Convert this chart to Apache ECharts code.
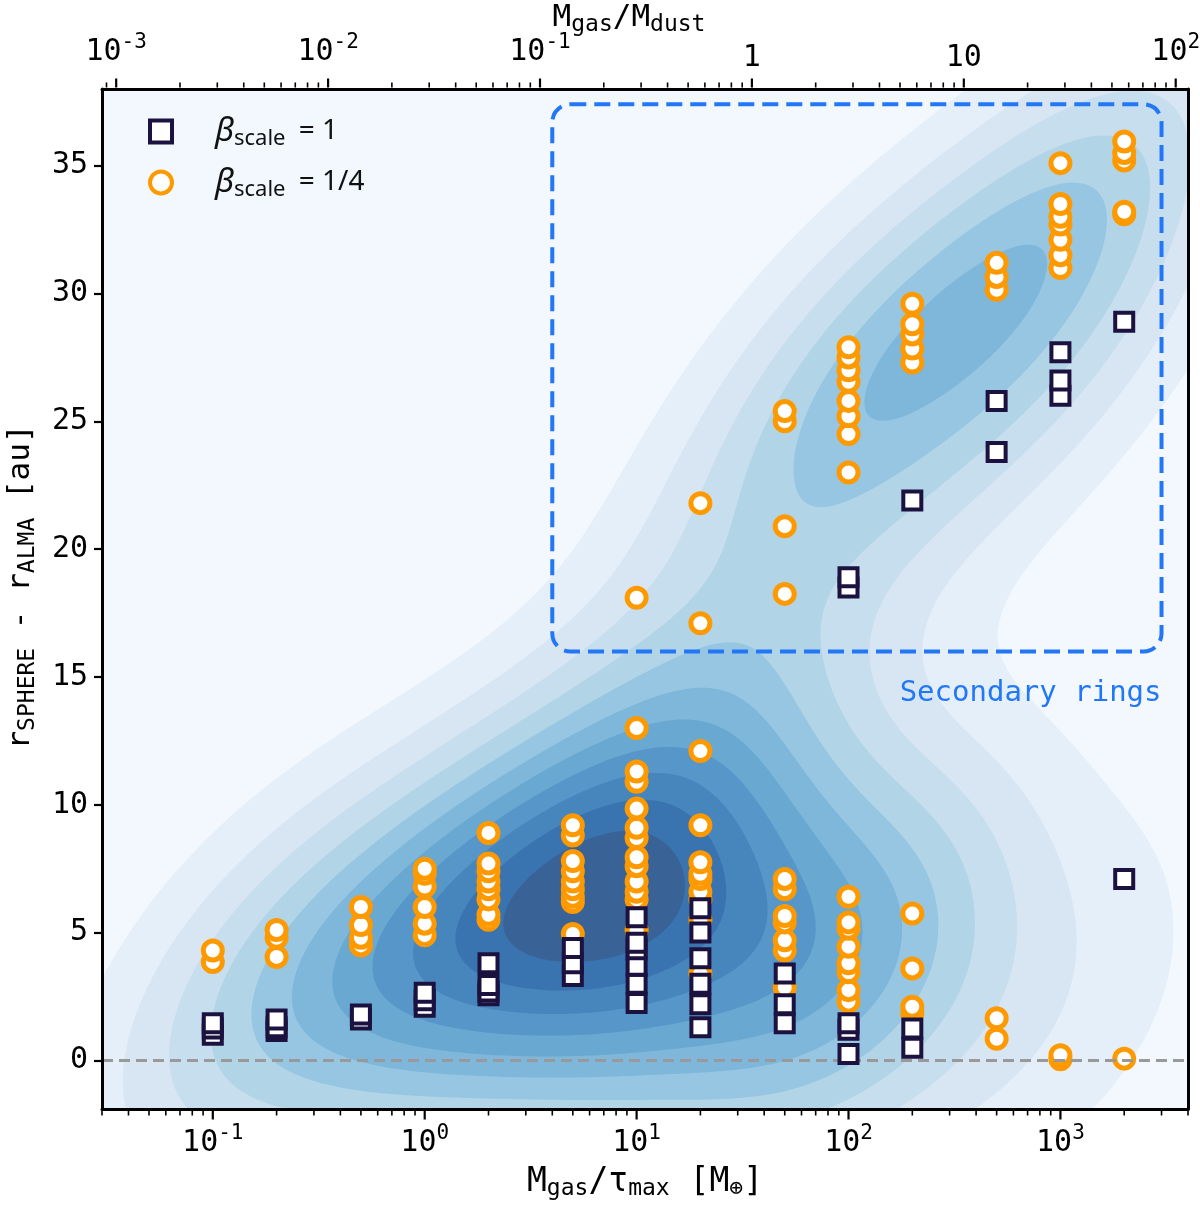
<!DOCTYPE html>
<html>
<head>
<meta charset="utf-8">
<script src="https://cdn.jsdelivr.net/npm/echarts@6/dist/echarts.min.js"></script>
<style>html,body{margin:0;padding:0;background:#fff}#chart{width:1200px;height:1217px}</style>
</head>
<body>
<div id="chart"></div>
<script>
// ---------------- DATA ----------------
const xGroups = [0.1, 0.2, 0.5, 1, 2, 5, 10, 20, 50, 100, 200, 500, 1000, 2000];
// beta_scale = 1 (squares)
const beta1Inner = [
  [1.0, 1.25, 1.45], [1.15, 1.3, 1.6], [1.6, 1.8], [2.1, 2.35, 2.65],
  [2.55, 2.7, 2.95, 3.8], [3.3, 3.8, 4.4], [2.25, 3.0, 3.7, 4.35, 4.6, 5.6],
  [1.3, 2.2, 3.0, 4.0, 5.0, 5.95], [1.45, 2.2, 3.4], [0.25, 1.2, 1.45],
  [0.5, 1.25], [], [], [7.1]
];
const beta1Outer = [
  [], [], [], [], [], [], [], [], [], [18.5, 18.9], [21.9], [23.8, 25.8],
  [26.0, 26.6, 27.7], [28.9]
];
// beta_scale = 1/4 (circles)
const beta4Inner = [
  [3.85, 4.3], [4.05, 4.8, 5.1], [4.5, 4.8, 5.3, 6.0], [4.9, 5.35, 6.0, 6.8, 7.3, 7.5],
  [5.5, 5.7, 6.3, 6.7, 7.0, 7.4, 7.7, 8.9], [4.95, 6.2, 6.4, 6.7, 7.0, 7.4, 7.8, 8.8, 9.2],
  [5.1, 6.3, 6.6, 7.0, 7.6, 7.95, 8.7, 9.1, 9.85, 10.9, 11.3, 13.0],
  [3.4, 5.5, 6.3, 6.6, 7.1, 7.3, 7.75, 9.2, 12.1], [2.85, 4.3, 4.7, 5.4, 5.65, 6.7, 7.1],
  [2.3, 2.75, 3.45, 3.8, 4.45, 5.15, 5.4, 6.4], [1.85, 2.1, 3.6, 5.75], [0.85, 1.65],
  [0.05, 0.2], [0.07]
];
const beta4Outer = [
  [], [], [], [], [], [], [18.1], [17.1, 21.8], [18.25, 20.9, 25.0, 25.4],
  [23.0, 24.5, 25.2, 25.8, 26.55, 27.0, 27.5, 27.9], [27.3, 27.85, 28.4, 28.8, 29.6],
  [30.15, 30.65, 31.2], [31.0, 31.5, 32.1, 32.7, 33.0, 33.5, 35.1],
  [33.1, 33.2, 35.2, 35.5, 35.95]
];
// "Secondary rings" box corners (data space)
const boxX = [4, 3000];
const boxY = [16.0, 37.4];
const boxLabel = 'Secondary rings';
// axes
const yTicks = [0, 5, 10, 15, 20, 25, 30, 35];
const gasToDustFactor = 35;
const bottomDecades = [0.01, 0.1, 1, 10, 100, 1000];
const topDecades = [0.0001, 0.001, 0.01, 0.1, 1, 10, 100];
const minorMultipliers = [2, 3, 4, 5, 6, 7, 8, 9];
const seriesNames = ['βscale = 1', 'βscale = 1/4'];

// ---------------- SETUP ----------------
const XMIN = 0.03, XMAX = 4000, YMIN = -1.9, YMAX = 38;
const TXMIN = XMIN / gasToDustFactor, TXMAX = XMAX / gasToDustFactor;
const MONO = "'DejaVu Sans Mono', monospace";
const SANS = "'Noto Sans', sans-serif";
const SQ_COLOR = '#1c1240';
const CI_COLOR = '#ff9900';
const BOX_COLOR = '#2277f6';

function pairs(groups) {
  const out = [];
  xGroups.forEach((x, i) => groups.forEach(g => g[i].forEach(y => out.push([x, y]))));
  return out;
}
const squareData = pairs([beta1Inner, beta1Outer]);
const circleData = pairs([beta4Inner, beta4Outer]);

// ---------- Gaussian KDE of all points in (log10 x, y), filled contours ----------
const KDE_BANDS = 12, KDE_ALPHA = 0.8, KDE_BW_ADJUST = 1.15;
const kdePts = squareData.concat(circleData).map(p => [Math.log10(p[0]), p[1]]);
const kde = (function () {
  const n = kdePts.length;
  let mx = 0, my = 0;
  kdePts.forEach(p => { mx += p[0]; my += p[1]; });
  mx /= n; my /= n;
  let sxx = 0, sxy = 0, syy = 0;
  kdePts.forEach(p => { const dx = p[0] - mx, dy = p[1] - my; sxx += dx * dx; sxy += dx * dy; syy += dy * dy; });
  sxx /= (n - 1); sxy /= (n - 1); syy /= (n - 1);
  const f2 = Math.pow(n, -2 / 6) * KDE_BW_ADJUST * KDE_BW_ADJUST;
  const kxx = sxx * f2, kxy = sxy * f2, kyy = syy * f2;
  const det = kxx * kyy - kxy * kxy;
  const ia = kyy / det, ib = -kxy / det, ic = kxx / det;
  function dens(u, v) {
    let s = 0;
    for (let k = 0; k < n; k++) {
      const dx = u - kdePts[k][0], dy = v - kdePts[k][1];
      s += Math.exp(-0.5 * (ia * dx * dx + 2 * ib * dx * dy + ic * dy * dy));
    }
    return s;
  }
  const NX = 240, NY = 240;
  const lx0 = Math.log10(XMIN), lx1 = Math.log10(XMAX);
  const gx = [], gy = [];
  for (let i = 0; i < NX; i++) gx.push(lx0 + (lx1 - lx0) * i / (NX - 1));
  for (let j = 0; j < NY; j++) gy.push(YMIN + (YMAX - YMIN) * j / (NY - 1));
  const grid = []; let max = 0;
  for (let j = 0; j < NY; j++) {
    const row = [];
    for (let i = 0; i < NX; i++) { const d = dens(gx[i], gy[j]); row.push(d); if (d > max) max = d; }
    grid.push(row);
  }
  const levels = [];
  for (let k = 0; k <= KDE_BANDS; k++) levels.push(max * k / KDE_BANDS);
  return { levels, gx, gy, grid };
})();

// Blues colormap
const BLUES = ['#f7fbff', '#deebf7', '#c6dbef', '#9ecae1', '#6baed6', '#4292c6', '#2171b5', '#08519c', '#08306b'];
function hex2rgb(h) { return [parseInt(h.slice(1, 3), 16), parseInt(h.slice(3, 5), 16), parseInt(h.slice(5, 7), 16)]; }
function blues(t) {
  t = Math.max(0, Math.min(1, t));
  const s = t * (BLUES.length - 1), i = Math.min(Math.floor(s), BLUES.length - 2), f = s - i;
  const a = hex2rgb(BLUES[i]), b = hex2rgb(BLUES[i + 1]);
  return a.map((v, k) => v + (b[k] - v) * f);
}
const L = kde.levels;
const bandColors = [];
for (let k = 0; k < KDE_BANDS; k++) {
  const c = blues((k + 0.5) / KDE_BANDS);
  const m = c.map(v => Math.round(KDE_ALPHA * v + (1 - KDE_ALPHA) * 255));
  bandColors.push('rgb(' + m.join(',') + ')');
}

function renderBand(params, api) {
  const k = api.value(2);
  const t = L[k];
  const px = kde.gx.map(lx => api.coord([Math.pow(10, lx), YMIN])[0]);
  const py = kde.gy.map(y => api.coord([XMIN, y])[1]);
  const G = kde.grid, NX = px.length, NY = py.length;
  const parts = [];
  const f = v => v.toFixed(1);
  const rect = (a, b, j) => 'M' + f(px[a]) + ' ' + f(py[j]) + 'L' + f(px[b]) + ' ' + f(py[j]) + 'L' + f(px[b]) + ' ' + f(py[j + 1]) + 'L' + f(px[a]) + ' ' + f(py[j + 1]) + 'Z';
  for (let j = 0; j < NY - 1; j++) {
    let runStart = -1;
    for (let i = 0; i < NX - 1; i++) {
      const v00 = G[j][i], v10 = G[j][i + 1], v11 = G[j + 1][i + 1], v01 = G[j + 1][i];
      const full = v00 >= t && v10 >= t && v11 >= t && v01 >= t;
      if (full) { if (runStart < 0) runStart = i; continue; }
      if (runStart >= 0) { parts.push(rect(runStart, i, j)); runStart = -1; }
      if (v00 < t && v10 < t && v11 < t && v01 < t) continue;
      const cs = [[px[i], py[j], v00], [px[i + 1], py[j], v10], [px[i + 1], py[j + 1], v11], [px[i], py[j + 1], v01]];
      const poly = [];
      for (let e = 0; e < 4; e++) {
        const A = cs[e], B = cs[(e + 1) % 4];
        const ai = A[2] >= t, bi = B[2] >= t;
        if (ai) poly.push(A);
        if (ai !== bi) {
          const s = (t - A[2]) / (B[2] - A[2]);
          poly.push([A[0] + s * (B[0] - A[0]), A[1] + s * (B[1] - A[1])]);
        }
      }
      if (poly.length >= 3) parts.push('M' + poly.map(p => f(p[0]) + ' ' + f(p[1])).join('L') + 'Z');
    }
    if (runStart >= 0) parts.push(rect(runStart, NX - 1, j));
  }
  return { type: 'path', shape: { pathData: parts.join('') }, style: { fill: bandColors[k], stroke: null }, silent: true };
}

// tick lists
function buildTicks(decades, lo, hi) {
  const out = [];
  decades.forEach(d => {
    if (d >= lo * 0.9999 && d <= hi * 1.0001) out.push([d, 1]);
    minorMultipliers.forEach(m => { const v = m * d; if (v >= lo * 0.9999 && v <= hi * 1.0001) out.push([v, 0]); });
  });
  return out;
}
const bottomTickData = buildTicks(bottomDecades, XMIN, XMAX).map(t => [t[0], YMIN, t[1]]);
const topTickData = buildTicks(topDecades, TXMIN, TXMAX).map(t => [t[0], YMAX, t[1]]);

function tickRenderer(dir) {
  return function (params, api) {
    const p = api.coord([api.value(0), api.value(1)]);
    const major = api.value(2) === 1;
    const len = major ? 9 : 5;
    const y0 = p[1] + dir * 1.5;
    return { type: 'line', shape: { x1: p[0], y1: y0, x2: p[0], y2: y0 + dir * len },
      style: { stroke: '#000', lineWidth: major ? 2.2 : 1.6 }, silent: true };
  };
}

function powLabel(v, plain) {
  const e = Math.log10(v), r = Math.round(e);
  if (Math.abs(e - r) > 1e-6) return '';
  if (plain && r === 0) return '1';
  if (plain && r === 1) return '10';
  return '10{sup|' + (r < 0 ? '-' + (-r) : r) + '}';
}

const labelRich = { sup: { fontSize: 21, fontFamily: MONO, color: '#000', padding: [0, 0, 20, 0] } };
const nameRich = { sub: { fontSize: 23, fontFamily: MONO, color: '#000', padding: [15, 0, 0, 0] } };

const chart = echarts.init(document.getElementById('chart'), null, { renderer: 'canvas' });
const option = {
  animation: false,
  backgroundColor: '#fff',
  grid: { left: 102, right: 12, top: 89, bottom: 108, show: true, backgroundColor: bandColors[0], borderWidth: 0,
    outerBoundsMode: 'none', containLabel: false },
  legend: {
    data: [seriesNames[0], seriesNames[1]],
    orient: 'vertical', left: 143, top: 110, itemWidth: 22, itemHeight: 22, itemGap: 16,
    itemStyle: { borderWidth: 4 },
    formatter: name => name === seriesNames[0] ? '{b|β}{s|scale} = 1' : '{b|β}{s|scale} = 1/4',
    textStyle: {
      fontFamily: SANS, fontSize: 28, color: '#111',
      rich: {
        b: { fontFamily: SANS, fontStyle: 'italic', fontSize: 33, color: '#111', padding: [0, 0, 0, 38] },
        s: { fontFamily: SANS, fontSize: 22, color: '#111', padding: [15, 6, 0, 0] }
      }
    }
  },
  xAxis: [
    {
      type: 'log', logBase: 10, min: XMIN, max: XMAX, position: 'bottom', z: 6,
      axisLine: { show: true, onZero: false, lineStyle: { color: '#000', width: 3 } },
      axisTick: { show: false }, splitLine: { show: false },
      axisLabel: { formatter: v => powLabel(v, false), showMinLabel: false, showMaxLabel: false, margin: 14,
        color: '#000', fontFamily: MONO, fontSize: 30, rich: labelRich },
      name: 'M{sub|gas}/τ{sub|max} [M{sub|⊕}]', nameLocation: 'middle', nameGap: 54,
      nameTextStyle: { color: '#000', fontFamily: MONO, fontSize: 33, rich: nameRich }
    },
    {
      type: 'log', logBase: 10, min: TXMIN, max: TXMAX, position: 'top', z: 6,
      axisLine: { show: true, onZero: false, lineStyle: { color: '#000', width: 3 } },
      axisTick: { show: false }, splitLine: { show: false },
      axisLabel: { formatter: v => powLabel(v, true), showMinLabel: false, showMaxLabel: false, margin: 16,
        color: '#000', fontFamily: MONO, fontSize: 30, rich: labelRich },
      name: 'M{sub|gas}/M{sub|dust}', nameLocation: 'middle', nameGap: 52, nameMoveOverlap: false,
      nameTextStyle: { color: '#000', fontFamily: MONO, fontSize: 31, rich: nameRich, padding: [0, 32, 0, 0] }
    }
  ],
  yAxis: [
    {
      type: 'value', min: YMIN, max: YMAX, position: 'left', z: 6,
      axisLine: { show: true, onZero: false, lineStyle: { color: '#000', width: 3 } },
      axisTick: { show: true, length: 8, customValues: yTicks, lineStyle: { color: '#000', width: 2.2 } },
      axisLabel: { customValues: yTicks, margin: 14, color: '#000', fontFamily: MONO, fontSize: 30 },
      splitLine: { show: false },
      name: 'r{sub|SPHERE} - r{sub|ALMA} [au]', nameLocation: 'middle', nameGap: 62, nameRotate: 90,
      nameTextStyle: { color: '#000', fontFamily: MONO, fontSize: 31, rich: nameRich, padding: [0, 0, 0, 24] }
    },
    {
      type: 'value', min: YMIN, max: YMAX, position: 'right', z: 6,
      axisLine: { show: true, onZero: false, lineStyle: { color: '#000', width: 3 } },
      axisTick: { show: false }, axisLabel: { show: false }, splitLine: { show: false }
    }
  ],
  series: [
    {
      type: 'custom', name: 'kde', z: 1, silent: true, clip: false,
      xAxisIndex: 0, yAxisIndex: 0,
      data: bandColors.map((c, k) => [XMIN, YMIN, k]).slice(1),
      encode: { x: 0, y: 1 },
      renderItem: renderBand
    },
    {
      type: 'custom', name: 'box', z: 2, silent: true, clip: false,
      xAxisIndex: 0, yAxisIndex: 0,
      data: [[boxX[0], boxY[1], boxX[1], boxY[0]]],
      encode: { x: [0, 2], y: [1, 3] },
      renderItem: function (params, api) {
        const p0 = api.coord([api.value(0), api.value(1)]);
        const p1 = api.coord([api.value(2), api.value(3)]);
        return {
          type: 'group', children: [
            { type: 'rect', shape: { x: p0[0], y: p0[1], width: p1[0] - p0[0], height: p1[1] - p0[1], r: 18 },
              style: { fill: null, stroke: BOX_COLOR, lineWidth: 4, lineDash: [16, 8] } },
            { type: 'text', x: p1[0], y: p1[1] + 42,
              style: { text: boxLabel, fill: BOX_COLOR, fontFamily: MONO, fontSize: 29, align: 'right', verticalAlign: 'middle' } }
          ]
        };
      }
    },
    {
      type: 'scatter', name: seriesNames[1], z: 3, data: circleData,
      symbol: 'circle', symbolSize: 19,
      itemStyle: { color: '#fff', borderColor: CI_COLOR, borderWidth: 5, opacity: 1 }
    },
    {
      type: 'line', name: 'zero', z: 4, data: [], silent: true,
      markLine: { silent: true, symbol: ['none', 'none'], label: { show: false },
        lineStyle: { color: '#999', width: 3, type: [11, 6] }, data: [{ yAxis: 0 }] }
    },
    {
      type: 'scatter', name: seriesNames[0], z: 5, data: squareData,
      symbol: 'rect', symbolSize: 18,
      itemStyle: { color: '#fff', borderColor: SQ_COLOR, borderWidth: 4, opacity: 1 }
    },
    {
      type: 'custom', name: 'bottomTicks', z: 6, silent: true, clip: false,
      xAxisIndex: 0, yAxisIndex: 0, data: bottomTickData, encode: { x: 0, y: 1 },
      renderItem: tickRenderer(1)
    },
    {
      type: 'custom', name: 'topTicks', z: 6, silent: true, clip: false,
      xAxisIndex: 1, yAxisIndex: 0, data: topTickData, encode: { x: 0, y: 1 },
      renderItem: tickRenderer(-1)
    }
  ]
};
chart.setOption(option);
</script>
</body>
</html>
